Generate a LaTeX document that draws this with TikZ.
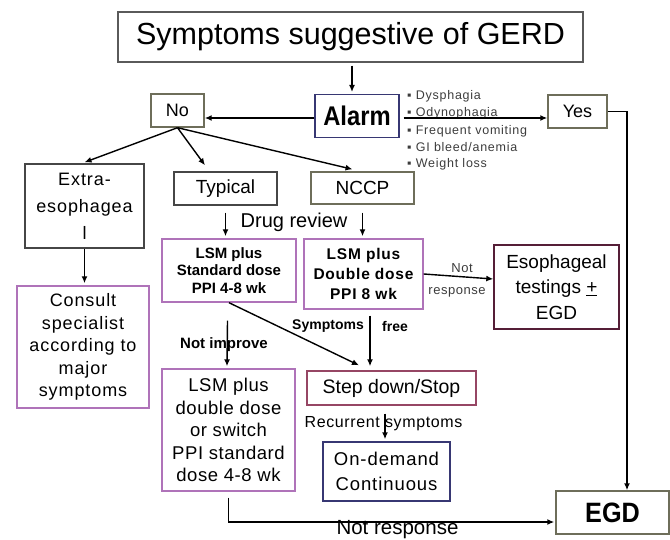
\documentclass[tikz,border=0pt]{standalone}
\usepackage{fontspec}
\setmainfont{Liberation Sans}
\newfontfamily\spf[LetterSpace=5]{Liberation Sans}
\newfontfamily\spg[LetterSpace=3]{Liberation Sans}
\newfontfamily\sph[LetterSpace=6]{Liberation Sans}
\newfontfamily\spk[LetterSpace=4]{Liberation Sans}
\usetikzlibrary{arrows.meta}
\definecolor{purp}{RGB}{175,115,185}
\definecolor{titlegray}{RGB}{90,90,90}
\definecolor{navyb}{RGB}{55,55,115}
\definecolor{oliveg}{RGB}{110,110,90}
\definecolor{darkg}{RGB}{70,70,70}
\definecolor{maroonb}{RGB}{85,30,55}
\definecolor{pinkb}{RGB}{150,70,100}
\definecolor{bullg}{RGB}{60,60,60}
\tikzset{
  box/.style={draw, line width=1.4pt, inner sep=0pt, align=center},
  arr/.style={-{Latex[length=7pt,width=6pt]}, line width=1.4pt},
  bul/.style={anchor=base west, inner sep=0pt, text=bullg, font=\fontsize{12.5}{13}\selectfont\sph},
  lbl/.style={inner sep=0pt, align=center}
}
\begin{document}
\begin{tikzpicture}[x=1pt,y=-1pt]
\useasboundingbox (0,0) rectangle (670,540);
% boxes
\node[box, draw=titlegray, minimum width=465pt, minimum height=50pt, font=\fontsize{30.5}{32}\selectfont] (title) at (350.5,37) {Symptoms suggestive of GERD};
\node[box, draw=navyb, minimum width=84pt, minimum height=43pt, font=\fontsize{27}{28}\selectfont\bfseries] (alarm) at (357,116) {\scalebox{0.88}[1]{Alarm}};
\node[box, draw=oliveg, minimum width=53pt, minimum height=33pt, font=\fontsize{18}{20}\selectfont] (no) at (177.5,110.5) {No};
\node[box, draw=oliveg, minimum width=59pt, minimum height=33pt, font=\fontsize{18}{20}\selectfont] (yes) at (577.5,111.5) {Yes};
\node[box, draw=darkg, minimum width=119pt, minimum height=84pt, font=\fontsize{18}{27}\selectfont\spf] (extra) at (84.5,206) {Extra-\\esophagea\\l};
\node[box, draw=darkg, minimum width=103pt, minimum height=33pt, font=\fontsize{19}{20}\selectfont] (typical) at (225.5,188.5) {Typical};
\node[box, draw=oliveg, minimum width=103pt, minimum height=32pt, font=\fontsize{19}{20}\selectfont] (nccp) at (362.5,188) {NCCP};
\node[box, draw=purp, minimum width=134pt, minimum height=63pt, font=\fontsize{15}{17.5}\selectfont\bfseries] (lsm1) at (229,270.5) {LSM plus\\Standard dose\\PPI 4-8 wk};
\node[box, draw=purp, minimum width=119pt, minimum height=70pt, font=\fontsize{15.5}{20}\selectfont\spf\bfseries] (lsm2) at (363.5,274) {LSM plus\\Double dose\\PPI 8 wk};
\node[box, draw=maroonb, minimum width=125pt, minimum height=84pt, font=\fontsize{19}{25.5}\selectfont] (eso) at (556.5,287) {Esophageal\\testings \underline{+}\\EGD};
\node[box, draw=purp, minimum width=132pt, minimum height=122pt, font=\fontsize{18}{22.5}\selectfont\spf] (consult) at (83,347) {Consult\\specialist\\according to\\major\\symptoms};
\node[box, draw=purp, minimum width=133pt, minimum height=122pt, font=\fontsize{18.5}{22.5}\selectfont\spg] (lsm3) at (228.5,430) {LSM plus\\double dose\\or switch\\PPI standard\\dose 4-8 wk};
\node[box, draw=pinkb, minimum width=169pt, minimum height=34pt, font=\fontsize{19.5}{21}\selectfont] (step) at (391.5,388) {Step down/Stop};
\node[box, draw=navyb, minimum width=127pt, minimum height=59pt, font=\fontsize{18.5}{25}\selectfont\spf] (ond) at (386.5,471.5) {On-demand\\Continuous};
\node[box, draw=oliveg, minimum width=113pt, minimum height=43pt, font=\fontsize{28}{30}\selectfont\bfseries] (egd) at (612.5,512.5) {\scalebox{0.9}[1]{EGD}};
% bullet list
\node[bul] (b1) at (407,99.5) {▪ Dysphagia};
\node[bul] (b2) at (407,117) {▪ Odynophagia};
\node[bul] (b3) at (407,135) {▪ Frequent vomiting};
\node[bul] (b4) at (407,152) {▪ GI bleed/anemia};
\node[bul] (b5) at (407,168) {▪ Weight loss};
% connectors
\draw[arr] ([yshift=-3pt]title.south -| 352,0) -- (352,92);
\draw[arr] ([yshift=-2pt]alarm.west) -- ([yshift=-2pt]alarm.west -| no.east);
\draw[arr] ([xshift=4pt,yshift=-2pt]alarm.east) -- ([yshift=-2pt]alarm.east -| yes.west);
\draw[arr] (no.south) -- ([yshift=1pt]extra.north);
\draw[arr] (no.south) -- ([xshift=-20.5pt,yshift=6pt]typical.north);
\draw[arr] (no.south) -- ([xshift=-10pt,yshift=2pt]nccp.north);
\draw[arr] ([yshift=-7pt]typical.south) -- ([yshift=2pt]typical.south |- lsm1.north);
\draw[arr] ([yshift=-8pt]nccp.south) -- ([yshift=2pt]nccp.south |- lsm2.north);
\draw[arr] (extra.south) -- ([yshift=2pt]extra.south |- consult.north);
\draw[arr] (lsm1.south) -- ([xshift=-32.5pt,yshift=5pt]step.north);
\draw[arr] ([xshift=6.5pt,yshift=-6pt]lsm2.south) -- ([xshift=-21.5pt,yshift=4pt]step.north);
\draw[arr] ([xshift=-1.5pt,yshift=-18pt]lsm1.south) -- ([xshift=-1.5pt,yshift=2pt]lsm3.north);
\draw[arr] (lsm2.east) -- ([yshift=8pt]eso.west);
\draw[arr] ([xshift=-6.5pt,yshift=-8pt]step.south) -- ([xshift=-1.5pt,yshift=2pt]ond.north);
\draw[arr] (yes.east) -| ([xshift=14.5pt]egd.north);
\draw[arr] ([yshift=-6pt]lsm3.south) |- ([xshift=-1pt,yshift=-9.5pt]egd.west);
% labels
\node[lbl, font=\fontsize{20}{21}\selectfont] (drug) at (294,222) {Drug review};
\node[lbl, font=\fontsize{15}{16}\selectfont\bfseries] (notimp) at (224,345) {Not improve};
\node[lbl, font=\fontsize{14}{16}\selectfont\bfseries] (symp) at (328,326) {Symptoms};
\node[lbl, font=\fontsize{14}{16}\selectfont\bfseries] (free) at (395,326) {free};
\node[lbl, text=bullg, font=\fontsize{13}{14}\selectfont\spk] (nr1) at (462,268) {Not};
\node[lbl, text=bullg, font=\fontsize{13}{14}\selectfont\spk] (nr2) at (457,292) {response};
\node[lbl, font=\fontsize{16}{17}\selectfont\spk] (recur) at (383.5,424) {Recurrent symptoms};
\node[lbl, font=\fontsize{20.5}{21}\selectfont] (nr3) at (397.5,530) {Not response};
\end{tikzpicture}
\end{document}
